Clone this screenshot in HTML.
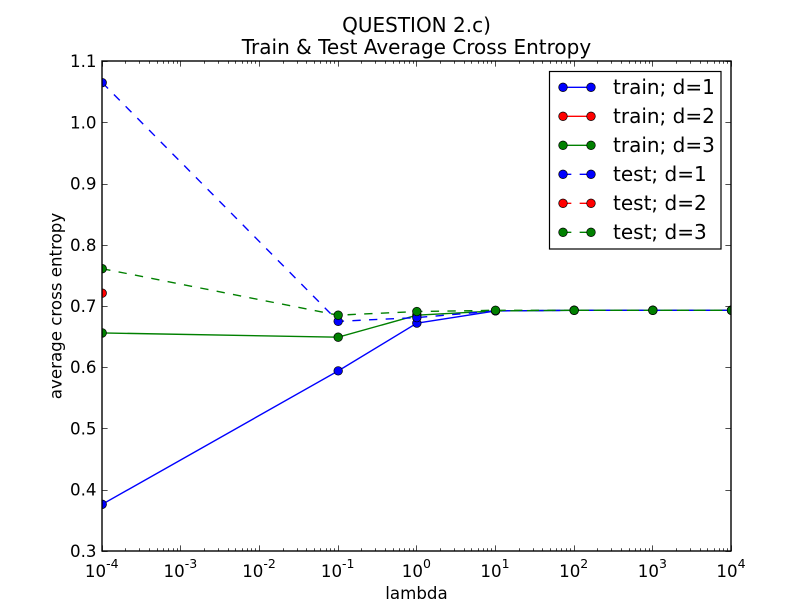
<!DOCTYPE html>
<html>
<head>
<meta charset="utf-8">
<title>QUESTION 2.c)</title>
<style>
html,body{margin:0;padding:0;background:#fff;}
svg{display:block;}
text{font-family:"DejaVu Sans","Liberation Sans",sans-serif;fill:#000;}
</style>
</head>
<body>
<svg id="chart" xmlns="http://www.w3.org/2000/svg" width="812" height="612" viewBox="0 0 812 612">
  <defs><clipPath id="plot-clip"><rect x="102" y="61" width="629" height="490"></rect></clipPath></defs>
  <rect x="0" y="0" width="812" height="612" fill="#fff"></rect>
  <g id="series-layer" clip-path="url(#plot-clip)"></g>
  <g id="tick-layer"></g>
  <rect x="102" y="61" width="629" height="490" fill="none" stroke="#000" stroke-width="1.39"></rect>
  <g id="label-layer"></g>
  <text x="416.5" y="32" text-anchor="middle" font-size="20">QUESTION 2.c)</text>
  <text x="416.5" y="54" text-anchor="middle" font-size="20">Train &amp; Test Average Cross Entropy</text>
  <text x="416.5" y="599" text-anchor="middle" font-size="16.67">lambda</text>
  <text transform="translate(61.5,306) rotate(-90)" text-anchor="middle" font-size="16.67">average cross entropy</text>
  <g id="legend-layer"></g>
</svg>
<script>
var lambdas = [1e-4, 1e-1, 1, 10, 100, 1000, 10000];
var trainD1 = [0.376, 0.594, 0.672, 0.692, 0.693, 0.693, 0.693];
var trainD2 = [null, null, null, null, null, null, null];
var trainD3 = [0.656, 0.649, 0.685, 0.692, 0.693, 0.693, 0.693];
var testD1 = [1.065, 0.675, 0.681, 0.692, 0.693, 0.693, 0.693];
var testD2 = [0.721, null, null, null, null, null, null];
var testD3 = [0.761, 0.685, 0.691, 0.693, 0.693, 0.693, 0.693];
var xTickExponents = [-4, -3, -2, -1, 0, 1, 2, 3, 4];
var yTickValues = [0.3, 0.4, 0.5, 0.6, 0.7, 0.8, 0.9, 1.0, 1.1];
var minorMultipliers = [2, 3, 4, 5, 6, 7, 8, 9];
var seriesLabels = ['train; d=1', 'train; d=2', 'train; d=3', 'test; d=1', 'test; d=2', 'test; d=3'];
var seriesValues = [trainD1, trainD2, trainD3, testD1, testD2, testD3];
var seriesColors = ['#0000ff', '#ff0000', '#008000', '#0000ff', '#ff0000', '#008000'];
var seriesDashed = [false, false, false, true, true, true];

var NS = 'http://www.w3.org/2000/svg';
var plotLeft = 102.2, plotRight = 731.5, plotTop = 61.2, plotBottom = 550.8;
var xMinExp = -4, xMaxExp = 4, yMin = 0.3, yMax = 1.1;

function xScale(v) {
  return plotLeft + (Math.log10(v) - xMinExp) / (xMaxExp - xMinExp) * (plotRight - plotLeft);
}
function yScale(v) {
  return plotBottom - (v - yMin) / (yMax - yMin) * (plotBottom - plotTop);
}
function make(tag, attrs, parent) {
  var el = document.createElementNS(NS, tag);
  for (var k in attrs) { el.setAttribute(k, attrs[k]); }
  parent.appendChild(el);
  return el;
}
function tickLine(x1, y1, x2, y2, name) {
  var t = make('line', {x1: x1, y1: y1, x2: x2, y2: y2, stroke: '#000', 'stroke-width': 0.7}, tickLayer);
  
  
}
function slug(s) {
  return s.replace(/; /g, '-').replace(/=/g, '');
}

var seriesLayer = document.getElementById('series-layer');
var tickLayer = document.getElementById('tick-layer');
var labelLayer = document.getElementById('label-layer');
var legendLayer = document.getElementById('legend-layer');

/* series */
seriesValues.forEach(function (vals, i) {
  var pts = [];
  vals.forEach(function (v, j) {
    if (v !== null) { pts.push(xScale(lambdas[j]).toFixed(2) + ',' + yScale(v).toFixed(2)); }
  });
  var line = make('polyline', {points: pts.join(' '), fill: 'none', stroke: seriesColors[i], 'stroke-width': 1.39}, seriesLayer);
  
  
  if (seriesDashed[i]) { line.setAttribute('stroke-dasharray', '8.33 8.33'); }
  vals.forEach(function (v, j) {
    if (v === null) { return; }
    var c = make('circle', {cx: xScale(lambdas[j]), cy: yScale(v), r: 4.3, fill: seriesColors[i], stroke: '#000', 'stroke-width': 0.7}, seriesLayer);
    
    
  });
});

/* x ticks and labels */
xTickExponents.forEach(function (e) {
  var x = Math.floor(xScale(Math.pow(10, e))) + 0.5;
  tickLine(x, 551, x, 545.4, 'x-major-tick-bottom');
  tickLine(x, 61, x, 66.6, 'x-major-tick-top');
  if (e < xMaxExp) {
    minorMultipliers.forEach(function (m) {
      var mx = Math.floor(xScale(m * Math.pow(10, e))) + 0.5;
      tickLine(mx, 551, mx, 548.2, 'x-minor-tick-bottom');
      tickLine(mx, 61, mx, 63.8, 'x-minor-tick-top');
    });
  }
  var cx = xScale(Math.pow(10, e));
  var label = make('text', {x: cx - 0.5, y: 577, 'text-anchor': 'middle', 'font-size': 16.67}, labelLayer);
  
  
  label.appendChild(document.createTextNode('10'));
  var sup = make('tspan', {dy: -9, 'font-size': 12.5}, label);
  sup.textContent = String(e);
});

/* y ticks and labels */
yTickValues.forEach(function (v) {
  var y = Math.round(yScale(v)) + 0.5;
  tickLine(102, y, 107.6, y, 'y-major-tick-left');
  tickLine(731, y, 725.4, y, 'y-major-tick-right');
  var label = make('text', {x: 96.5, y: yScale(v) + 6, 'text-anchor': 'end', 'font-size': 16.67}, labelLayer);
  
  
  label.textContent = v.toFixed(1);
});

/* legend */
var legendBox = make('rect', {x: 549.5, y: 71.5, width: 171.5, height: 177.5, fill: '#fff', stroke: '#000', 'stroke-width': 1.2}, legendLayer);


seriesLabels.forEach(function (name, i) {
  var y = 87.3 + i * 29;
  var g = make('g', {}, legendLayer);
  
  
  var ln = make('line', {x1: 563, y1: y, x2: 591, y2: y, stroke: seriesColors[i], 'stroke-width': 1.39}, g);
  
  
  if (seriesDashed[i]) { ln.setAttribute('stroke-dasharray', '8.33 8.33'); }
  [563, 591].forEach(function (mx) {
    var c = make('circle', {cx: mx, cy: y, r: 4.3, fill: seriesColors[i], stroke: '#000', 'stroke-width': 0.7}, g);
    
    
  });
  var t = make('text', {x: 613, y: y + 6.5, 'font-size': 20}, g);
  
  
  t.textContent = name;
});
</script>
</body>
</html>
